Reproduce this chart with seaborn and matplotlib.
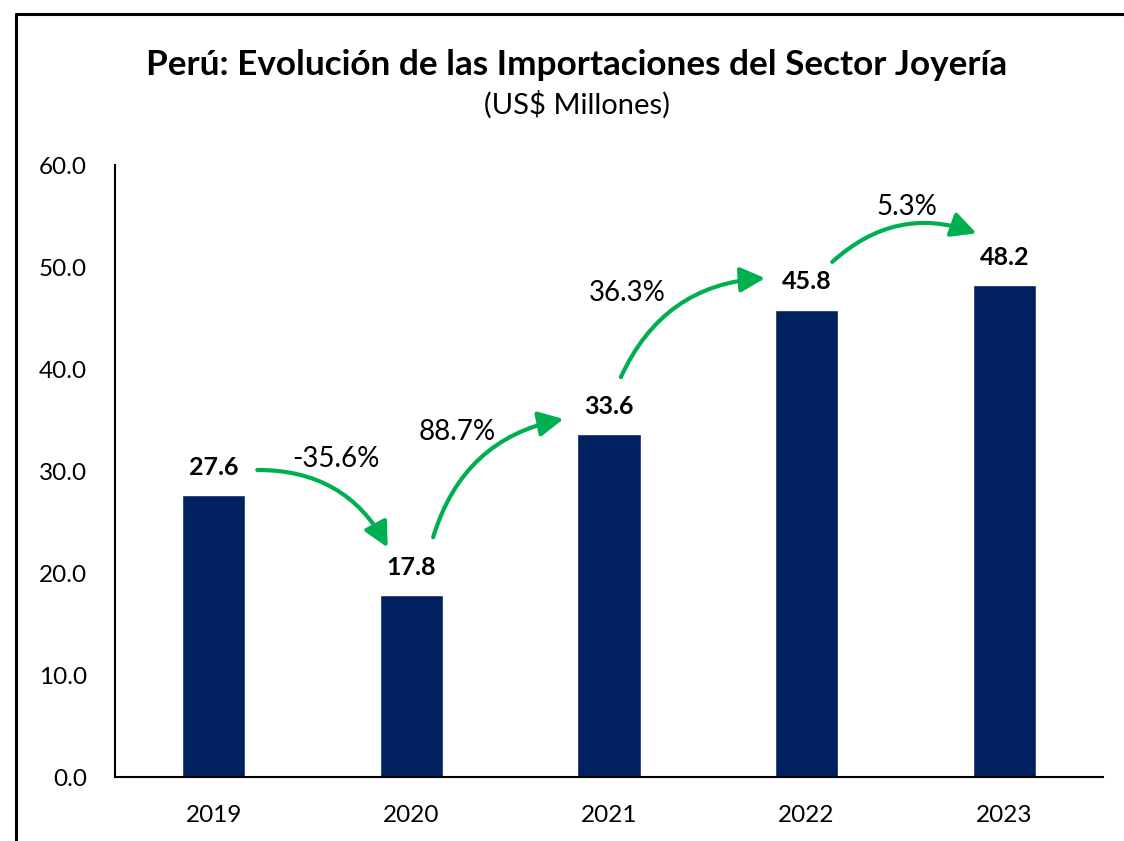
import matplotlib
matplotlib.use("Agg")
import matplotlib.pyplot as plt
import seaborn as sns
from matplotlib.lines import Line2D

# Datos (US$ millones)
anios = ["2019", "2020", "2021", "2022", "2023"]
importaciones = [27.6, 17.8, 33.6, 45.8, 48.2]
variacion = ["-35.6%", "88.7%", "36.3%", "5.3%"]

# Geometría de las flechas: desplazamientos respecto a cada barra
# (dx inicio, dy inicio, dx fin, dy fin)
flechas = [
    (0.22, 2.5, -0.12, 4.7),
    (0.11, 5.7, -0.23, 1.5),
    (0.06, 5.6, -0.21, 3.1),
    (0.13, 4.7, -0.14, 5.1),
]
# posición de las etiquetas de variación (dx, dy desde el inicio de la flecha)
pos_var = [(0.40, 1.1), (0.12, 10.3), (0.03, 8.3), (0.38, 5.4)]

sns.set_style("white")
plt.rcParams["font.family"] = ["Lato", "DejaVu Sans"]

fig = plt.figure(figsize=(11.24, 8.41), dpi=100)
ax = fig.add_axes([115 / 1124, 64 / 841, 988 / 1124, 612 / 841])

sns.barplot(x=anios, y=importaciones, color="#002060", saturation=1,
            width=0.32, ax=ax)

ax.set_ylim(0, 60)
ax.set_xlim(-0.5, 4.5)
ax.set_yticks(range(0, 61, 10))
ax.set_yticklabels([f"{v:.1f}" for v in range(0, 61, 10)])
ax.tick_params(axis="y", length=0, pad=20, labelsize=17.5, labelcolor="black")
ax.tick_params(axis="x", length=0, pad=20, labelsize=17.5, labelcolor="black")
ax.set_xlabel("")
ax.set_ylabel("")
for lado in ["top", "right"]:
    ax.spines[lado].set_visible(False)
for lado in ["left", "bottom"]:
    ax.spines[lado].set_color("black")
    ax.spines[lado].set_linewidth(1.5)

ax.bar_label(ax.containers[0], labels=[f"{v:.1f}" for v in importaciones],
             padding=12, fontsize=18, fontweight="bold", color="black")

verde = "#00B050"
for i, (d, lab, p) in enumerate(zip(flechas, variacion, pos_var)):
    x0, y0 = i + d[0], importaciones[i] + d[1]
    x1, y1 = i + 1 + d[2], importaciones[i + 1] + d[3]
    ax.annotate("", xy=(x1, y1), xytext=(x0, y0),
                arrowprops=dict(arrowstyle="-|>,head_length=0.75,head_width=0.38",
                                mutation_scale=20, color=verde, lw=3,
                                shrinkA=0, shrinkB=0,
                                connectionstyle="arc3,rad=-0.3"))
    ax.text(x0 + p[0], y0 + p[1], lab, ha="center", va="center",
            fontsize=20, color="black")

fig.text(577 / 1124, 1 - 65 / 841,
         "Perú: Evolución de las Importaciones del Sector Joyería",
         ha="center", va="center", fontsize=25.3, fontweight="bold",
         color="black")
fig.text(577 / 1124, 1 - 105 / 841, "(US$ Millones)",
         ha="center", va="center", fontsize=21, color="black")

# marco
fig.add_artist(Line2D([16 / 1124, 16 / 1124], [0, 1 - 14 / 841],
                      color="black", lw=2.2, transform=fig.transFigure))
fig.add_artist(Line2D([16 / 1124, 1], [1 - 14 / 841, 1 - 14 / 841],
                      color="black", lw=2.2, transform=fig.transFigure))

fig.savefig("out.png", dpi=100)
